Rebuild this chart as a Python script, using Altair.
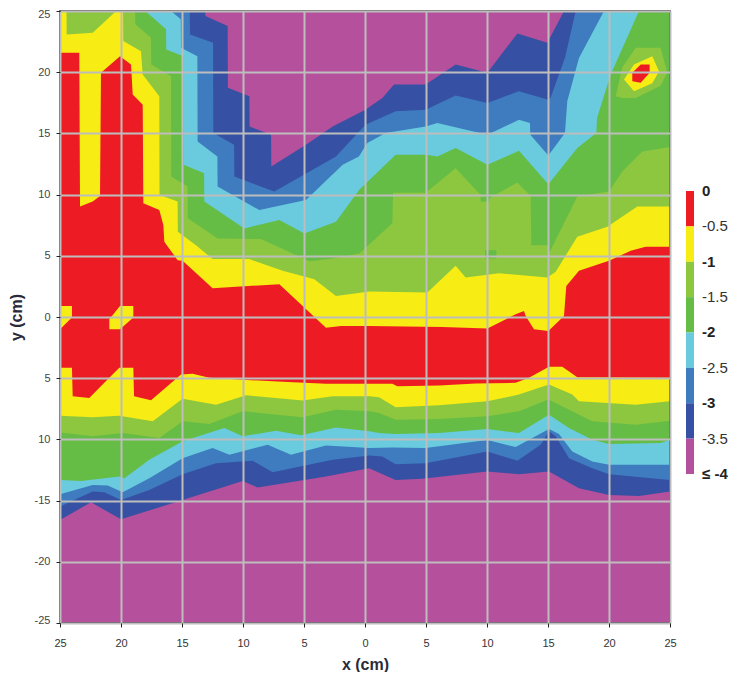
import altair as alt
import pandas as pd

# axis
axis_domain = [-25, 25]
grid_ticks = [-25, -20, -15, -10, -5, 0, 5, 10, 15, 20, 25]
base_top = -2.7
base_low = -2.3

# colours, outermost contour first
c_purple = "#B5509C"
c_dark = "#3650A4"
c_blue = "#3E7BBF"
c_cyan = "#69CBDD"
c_green = "#65BD45"
c_lgreen = "#8DC63F"
c_yellow = "#F7EC13"
c_red = "#ED1C24"

# upper contours
dark_top_x = [-25, -13.11, -13.08, -11.26, -11.24, -9.48, -9.46, -7.7, -7.68, -4.84, -2.65, 0.03, 1.42, 2.38, 4.97, 7.43, 10.03, 12.49, 14.95, 16.31, 25]
dark_top_y = [25, 25, 24.6, 23.77, 18.72, 18.03, 15.57, 14.89, 12.3, 14.07, 15.57, 16.94, 17.9, 18.99, 18.99, 20.63, 19.95, 23.17, 22.4, 25, 25]

blue_top_x = [-25, -14.36, -14.34, -12.45, -12.43, -10.73, -10.71, -7.43, -2.38, 0.03, 2.51, 4.97, 7.43, 10.03, 12.62, 14.95, 15.2, 15.9, 16.4, 17.27, 25]
blue_top_y = [25, 25, 23.09, 22.4, 15.03, 14.07, 11.48, 10.25, 13.11, 15.71, 16.8, 16.94, 18.09, 17.49, 18.44, 17.76, 17.9, 19.81, 21.2, 25, 25]

cyan_top_x = [-25, -15.9, -15.1, -15.08, -13.74, -13.72, -12.1, -12.08, -8.66, -4.84, -1.83, -0.5, 0.19, 1.69, 4.97, 5.93, 10.03, 12.62, 13.52, 13.55, 15.03, 16.39, 16.58, 17.54, 19.59, 25]
cyan_top_y = [25, 25, 24.32, 22, 21.31, 14.34, 13.11, 10.66, 8.74, 9.56, 12.43, 13.11, 14.21, 15.03, 15.57, 15.85, 14.89, 16.12, 15.85, 14.89, 13.2, 15.03, 17.62, 21.17, 25, 25]

green_top_x = [-25, -18.01, -16.31, -16.29, -14.88, -14.86, -13.19, -13.17, -9.89, -7.02, -4.97, -2.38, -0.49, 2.51, 4.97, 5.93, 7.43, 10.03, 12.62, 15.03, 17.4, 18.96, 19.02, 20.14, 22.46, 25]
green_top_y = [25, 25, 23.5, 21.86, 21.3, 12.43, 11.75, 9.43, 7.24, 7.92, 6.83, 7.79, 10.38, 13.25, 13.25, 13.11, 13.8, 12.43, 13.58, 10.85, 13.8, 15.03, 16.26, 19.81, 25, 25]

lgreen_top_x = [-25, -18.85, -18.83, -17.54, -17.52, -15.9, -15.88, -14.54, -14.52, -12.08, -8.52, -4.56, -2.65, -0.46, 2.24, 2.3, 4.97, 7.43, 9.48, 10.16, 12.49, 13.58, 13.63, 14.95, 15.14, 17.4, 20, 21.09, 22.73, 25]
lgreen_top_y = [25, 25, 23.91, 22.81, 20.63, 19.67, 11.48, 10.66, 8.06, 6.42, 6.37, 4.56, 4.78, 5.19, 7.65, 10.16, 10.16, 12.16, 9.97, 9.7, 10.98, 9.89, 5.87, 5.87, 5.33, 9.84, 10.25, 11.89, 13.52, 13.88]

yellow_top_x = [-25, -24.47, -24.45, -22.32, -20.68, -20.4, -19.83, -19.81, -18.36, -18.22, -16.86, -16.84, -15.36, -15.34, -13.85, -12.49, -9.48, -6.75, -4.15, -2.38, 0.36, 5.11, 7.43, 8.25, 10.98, 14.95, 15.63, 17.4, 19.86, 22.32, 25]
yellow_top_y = [25, 25, 23.09, 23.22, 24.73, 25, 25, 22.54, 21.72, 19.81, 18.03, 9.97, 9.43, 6.97, 5.87, 4.73, 4.73, 3.77, 3.09, 1.72, 2.08, 2.0, 4.18, 3.22, 3.58, 3.22, 3.69, 6.56, 7.38, 9.02, 9.02]

red_top_x = [-25, -23.42, -23.36, -22.32, -21.72, -21.64, -20.08, -19.18, -19.04, -18.22, -18.17, -16.86, -16.53, -16.45, -15.36, -14.95, -12.49, -7.02, -3.2, -1.97, 0.36, 6.34, 10.03, 12.35, 13.03, 13.17, 13.85, 15.03, 16.31, 16.5, 17.54, 20, 21.78, 23, 25]
red_top_y = [21.58, 21.58, 9.02, 9.43, 9.89, 19.95, 21.31, 20.63, 18.17, 17.35, 9.29, 8.74, 7.51, 6.15, 4.64, 4.59, 2.35, 2.68, -0.87, -0.74, -0.74, -0.82, -0.93, 0.22, 0.49, 0.08, -1.01, -1.15, 0.08, 2.54, 3.77, 4.59, 5.41, 5.74, 5.74]

# lower contours
dark_low_x = [-25, -22.46, -20, -14.95, -10.03, -8.8, -3.2, 0.33, 2.51, 4.7, 10.03, 12.62, 15.08, 17.54, 20, 22.46, 25]
dark_low_y = [-16.58, -15.14, -16.53, -14.95, -13.39, -13.93, -13.03, -12.35, -13.31, -13.22, -12.62, -12.84, -12.62, -13.99, -14.54, -14.62, -14.26]

blue_low_x = [-25, -22.32, -21.37, -20, -17.68, -14.95, -12.21, -9.21, -7.57, -2.65, 0.36, 1.42, 2.51, 4.97, 10.03, 12.49, 14.4, 15.08, 15.63, 16.72, 18.63, 20, 25]
blue_low_y = [-15.49, -14.26, -14.32, -14.95, -14.13, -12.84, -11.94, -11.75, -12.68, -11.67, -11.31, -11.39, -12.02, -11.94, -10.98, -11.75, -10.44, -9.34, -9.75, -11.53, -12.35, -12.85, -13.31]

cyan_low_x = [-25, -22.32, -21.09, -19.86, -17.68, -14.95, -12.49, -11.12, -7.98, -6.07, -3.2, 0.36, 2.24, 4.97, 10.03, 12.35, 15.08, 15.9, 16.99, 18.63, 20, 25]
cyan_low_y = [-14.48, -13.72, -13.77, -14.32, -13.17, -11.53, -10.71, -11.26, -10.44, -11.26, -10.49, -10.71, -10.66, -10.71, -10.05, -10.63, -9.15, -9.56, -10.98, -11.8, -12.08, -12.08]

green_low_x = [-25, -23.28, -20.14, -19.73, -17.68, -14.95, -11.53, -10.03, -7.3, -5.25, -2.38, 0.36, 1.15, 2.51, 6.07, 10.03, 12.62, 15.08, 16.72, 18.63, 20, 24.23, 25]
green_low_y = [-13.31, -13.39, -13.03, -13.17, -11.67, -10.16, -9.07, -9.75, -9.29, -9.67, -9.02, -9.34, -9.48, -9.56, -9.48, -9.15, -9.48, -7.98, -9.07, -10.03, -10.38, -10.3, -10.03]

lgreen_low_x = [-25, -22.32, -19.86, -16.86, -14.95, -12.76, -10.03, -5.11, -2.38, 0.36, 1.15, 2.51, 6.07, 10.03, 12.62, 15.03, 16.99, 18.63, 22.19, 25]
lgreen_low_y = [-9.43, -9.75, -9.48, -9.89, -8.52, -8.74, -7.7, -8.2, -7.57, -7.7, -7.84, -8.39, -8.33, -8.11, -7.7, -6.75, -7.7, -8.52, -8.8, -8.47]

yellow_low_x = [-25, -22.32, -20.14, -17.4, -14.95, -12.21, -9.75, -5.11, -2.65, 0.36, 1.15, 2.51, 6.07, 10.03, 12.62, 15.08, 16.99, 17.54, 22.19, 25]
yellow_low_y = [-8.06, -8.2, -8.06, -8.52, -6.67, -7.16, -6.39, -6.83, -6.48, -6.48, -6.56, -7.38, -7.21, -6.89, -6.34, -5.52, -6.34, -6.89, -7.16, -6.89]

red_low_x = [-25, -24.02, -23.96, -22.6, -21.37, -20.14, -18.99, -18.93, -17.54, -15.08, -14.13, -12.76, -6.75, -3.2, 0.36, 2.24, 2.65, 6.07, 9.07, 12.35, 13.44, 15.08, 16.17, 17.4, 25]
red_low_y = [-4.15, -4.15, -6.48, -6.61, -5.38, -4.15, -4.15, -6.48, -6.8, -4.7, -4.64, -4.97, -5.3, -5.46, -5.46, -5.46, -5.66, -5.6, -5.44, -5.38, -4.97, -4.07, -4.07, -4.92, -4.97]

# closed islands: x, upper edge, lower edge
isl_y1_x = [-25, -24.02]
isl_y1_hi = [0.9, 0.9]
isl_y1_lo = [-1.01, -0.05]

isl_y2_x = [-20.96, -20.08, -18.99]
isl_y2_hi = [-0.19, 0.9, 0.9]
isl_y2_lo = [-1.01, -1.01, -0.05]

isl_g1_x = [9.48, 10.16]
isl_g1_hi = [9.84, 9.84]
isl_g1_lo = [9.43, 9.43]

isl_g2_x = [9.84, 10.77]
isl_g2_hi = [5.46, 5.46]
isl_g2_lo = [4.78, 4.78]

peak_l_x = [20.55, 21.09, 22.19, 24.23, 24.78]
peak_l_hi = [18.03, 20.4, 22.0, 22.0, 19.95]
peak_l_lo = [18.03, 17.9, 17.9, 18.9, 19.95]

peak_y_x = [21.23, 22.05, 23.55, 24.1]
peak_y_hi = [19.4, 20.63, 21.31, 20.08]
peak_y_lo = [19.4, 18.44, 19.1, 20.08]

peak_r_x = [21.91, 22.6, 23.33]
peak_r_hi = [19.95, 20.63, 20.63]
peak_r_lo = [19.26, 19.13, 19.95]

# colour key
key_colors = [c_red, c_yellow, c_lgreen, c_green, c_cyan, c_blue, c_dark, c_purple]
key_top = [0, -0.5, -1, -1.5, -2, -2.5, -3, -3.5]
key_bottom = [-0.5, -1, -1.5, -2, -2.5, -3, -3.5, -4]
key_label_y = [0, -0.5, -1, -1.5, -2, -2.5, -3, -3.5, -4]
key_labels = ["0", "-0.5", "-1", "-1.5", "-2", "-2.5", "-3", "-3.5", "\u2264 -4"]
key_bold = [True, False, True, False, True, False, True, False, True]
key_domain = [-6.106, 2.544]

xs = alt.Scale(domain=axis_domain, nice=False)
ys = alt.Scale(domain=axis_domain, nice=False)

x_labels = "abs(datum.value)"
y_labels = "datum.value < -10 ? datum.value : abs(datum.value)"

x_axis = alt.Axis(values=grid_ticks, title="x (cm)", labelExpr=x_labels, grid=True, gridColor="#BDBDBD", gridWidth=2, gridOpacity=1,
                  zindex=1, domain=False, tickColor="#222222", tickSize=4, labelFont="Liberation Sans", labelFontSize=11, labelColor="#333333",
                  labelFlush=False, labelPadding=10,
                  titleFont="Liberation Sans", titleFontSize=16, titleFontWeight="bold", titleColor="#2a2a3a", titlePadding=8)
y_axis = alt.Axis(values=grid_ticks, title="y (cm)", labelExpr=y_labels, grid=True, gridColor="#BDBDBD", gridWidth=2, gridOpacity=1,
                  zindex=1, domain=False, tickColor="#222222", tickSize=4, labelFont="Liberation Sans", labelFontSize=11, labelColor="#444444",
                  labelPadding=6, labelFlush=True, labelFlushOffset=2.5,
                  titleFont="Liberation Sans", titleFontSize=16, titleFontWeight="bold", titleColor="#2a2a3a", titlePadding=10)


def band(x, y, color, base):
    df = pd.DataFrame({"x": x, "y": y, "base": [base] * len(x)})
    return alt.Chart(df).mark_area(color=color, interpolate="linear").encode(
        x=alt.X("x:Q", scale=xs, axis=x_axis),
        y=alt.Y("y:Q", scale=ys, axis=y_axis),
        y2="base:Q",
    )


def island(x, hi, lo, color):
    df = pd.DataFrame({"x": x, "hi": hi, "lo": lo})
    return alt.Chart(df).mark_area(color=color, interpolate="linear").encode(
        x=alt.X("x:Q", scale=xs, axis=x_axis),
        y=alt.Y("hi:Q", scale=ys, axis=y_axis),
        y2="lo:Q",
    )


box = pd.DataFrame({"x": [axis_domain[0]], "x2": [axis_domain[1]], "y": [axis_domain[0]], "y2": [axis_domain[1]]})

ground = alt.Chart(box).mark_rect(color=c_purple).encode(
    x=alt.X("x:Q", scale=xs, axis=x_axis),
    x2="x2:Q",
    y=alt.Y("y:Q", scale=ys, axis=y_axis),
    y2="y2:Q",
)

frame = alt.Chart(box).mark_rect(filled=False, stroke="#1a1a1a", strokeWidth=1.5).encode(
    x=alt.X("x:Q", scale=xs, axis=x_axis),
    x2="x2:Q",
    y=alt.Y("y:Q", scale=ys, axis=y_axis),
    y2="y2:Q",
)

layers = [
    ground,
    band(dark_top_x, dark_top_y, c_dark, base_top), band(dark_low_x, dark_low_y, c_dark, base_low),
    band(blue_top_x, blue_top_y, c_blue, base_top), band(blue_low_x, blue_low_y, c_blue, base_low),
    band(cyan_top_x, cyan_top_y, c_cyan, base_top), band(cyan_low_x, cyan_low_y, c_cyan, base_low),
    band(green_top_x, green_top_y, c_green, base_top), band(green_low_x, green_low_y, c_green, base_low),
    band(lgreen_top_x, lgreen_top_y, c_lgreen, base_top), band(lgreen_low_x, lgreen_low_y, c_lgreen, base_low),
    island(isl_g1_x, isl_g1_hi, isl_g1_lo, c_green), island(isl_g2_x, isl_g2_hi, isl_g2_lo, c_green),
    band(yellow_top_x, yellow_top_y, c_yellow, base_top), band(yellow_low_x, yellow_low_y, c_yellow, base_low),
    band(red_top_x, red_top_y, c_red, base_top), band(red_low_x, red_low_y, c_red, base_low),
    island(isl_y1_x, isl_y1_hi, isl_y1_lo, c_yellow), island(isl_y2_x, isl_y2_hi, isl_y2_lo, c_yellow),
    island(peak_l_x, peak_l_hi, peak_l_lo, c_lgreen), island(peak_y_x, peak_y_hi, peak_y_lo, c_yellow), island(peak_r_x, peak_r_hi, peak_r_lo, c_red),
    frame,
]
plot = alt.layer(*layers).resolve_scale(x="shared", y="shared").properties(width=610, height=612)

key_scale = alt.Scale(domain=key_domain, nice=False)
key_df = pd.DataFrame({"top": key_top, "bottom": key_bottom, "color": key_colors})
key_bar = alt.Chart(key_df).mark_bar(width=8, align="left").encode(
    x=alt.value(0),
    y=alt.Y("top:Q", scale=key_scale, axis=None),
    y2="bottom:Q",
    color=alt.Color("color:N", scale=None),
)
lab_df = pd.DataFrame({"y": key_label_y, "label": key_labels, "weight": ["bold" if b else "normal" for b in key_bold]})
key_text_b = alt.Chart(lab_df[lab_df.weight == "bold"]).mark_text(align="left", font="Liberation Sans", fontSize=15, fontWeight="bold", color="#222222").encode(
    x=alt.value(16), y=alt.Y("y:Q", scale=key_scale, axis=None), text="label:N"
)
key_text_n = alt.Chart(lab_df[lab_df.weight == "normal"]).mark_text(align="left", font="Liberation Sans", fontSize=15, color="#333333").encode(
    x=alt.value(16), y=alt.Y("y:Q", scale=key_scale, axis=None), text="label:N"
)
key = alt.layer(key_bar, key_text_b, key_text_n).properties(width=44, height=612)

chart = alt.hconcat(plot, key, spacing=9).configure_view(stroke=None).properties(
    padding={"left": 0, "top": 0, "right": 0, "bottom": 0}
)

chart.save("out.html", embed_options={"renderer": "svg", "actions": False})
